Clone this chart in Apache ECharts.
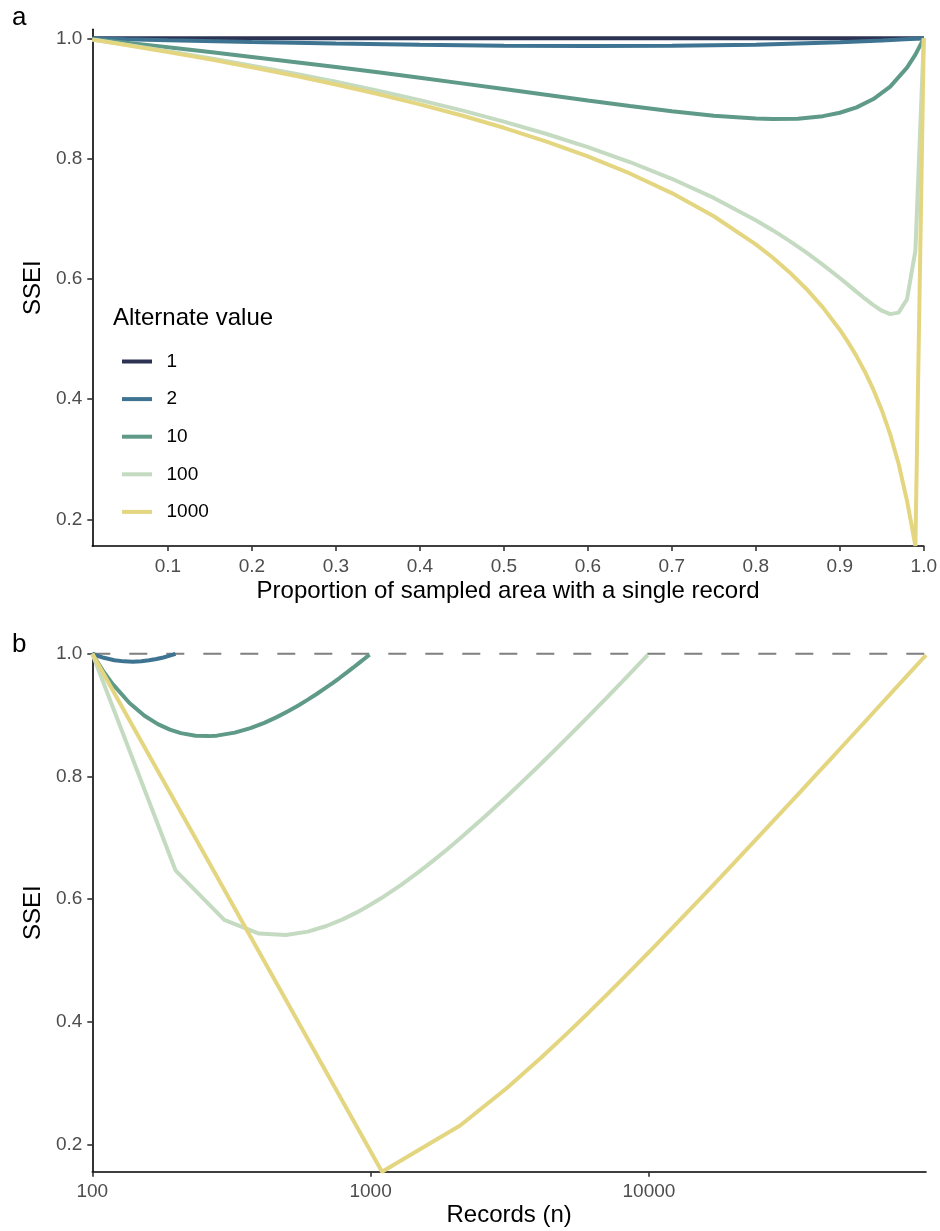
<!DOCTYPE html>
<html><head><meta charset="utf-8">
<script src="https://cdn.jsdelivr.net/npm/echarts@6/dist/echarts.min.js"></script>
<style>html,body{margin:0;padding:0;background:#fff}#c{width:940px;height:1231px}</style>
</head><body><div id="c"></div>
<script>
// ---- data ----
const altValues = ['1', '2', '10', '100', '1000'];
const lineColors = ['#2b3252', '#3e7491', '#5f9a88', '#c4dbc2', '#e4d680'];

// Panel a: proportion of sampled area with a single record vs SSEI
const prop1 = [0.01, 1.0];
const ssei1 = [1.0, 1.0];
const rec1 = [100, 100];

const prop2 = [0.01, 0.05, 0.1, 0.2, 0.3, 0.4, 0.5, 0.6, 0.7, 0.8, 0.9, 0.95, 1.0];
const ssei2 = [0.99967, 0.99836, 0.99678, 0.99385, 0.99127, 0.98917, 0.98770, 0.98706, 0.98750, 0.98942, 0.99333, 0.99626, 1.0];
const rec2 = [199, 195, 190, 180, 170, 160, 150, 140, 130, 120, 110, 105, 100];

const prop10 = [0.01, 0.05, 0.1, 0.15, 0.2, 0.25, 0.3, 0.35, 0.4, 0.45, 0.5, 0.55, 0.6, 0.65, 0.7, 0.75, 0.8, 0.82, 0.85, 0.88, 0.9, 0.92, 0.94, 0.96, 0.98, 0.99, 1.0];
const ssei10 = [0.99854, 0.99262, 0.98502, 0.97718, 0.96910, 0.96078, 0.95221, 0.94339, 0.93434, 0.92507, 0.91564, 0.90610, 0.89660, 0.88734, 0.87870, 0.87133, 0.86644, 0.86564, 0.86638, 0.87057, 0.87622, 0.88521, 0.89895, 0.91971, 0.95120, 0.97284, 1.0];
const rec10 = [991, 955, 910, 865, 820, 775, 730, 685, 640, 595, 550, 505, 460, 415, 370, 325, 280, 262, 235, 208, 190, 172, 154, 136, 118, 109, 100];

const prop100 = [0.01, 0.05, 0.1, 0.15, 0.2, 0.25, 0.3, 0.35, 0.4, 0.45, 0.5, 0.55, 0.6, 0.65, 0.7, 0.75, 0.8, 0.82, 0.84, 0.85, 0.86, 0.88, 0.9, 0.91, 0.92, 0.93, 0.94, 0.95, 0.96, 0.97, 0.98, 0.99, 1.0];
const ssei100 = [0.99794, 0.98950, 0.97847, 0.96686, 0.95458, 0.94158, 0.92774, 0.91298, 0.89714, 0.88007, 0.86154, 0.84132, 0.81904, 0.79426, 0.76637, 0.73452, 0.69750, 0.68088, 0.66305, 0.65364, 0.64388, 0.62328, 0.60128, 0.58986, 0.57832, 0.56691, 0.55613, 0.54692, 0.54129, 0.54373, 0.56597, 0.64691, 1.0];
const rec100 = [9901, 9505, 9010, 8515, 8020, 7525, 7030, 6535, 6040, 5545, 5050, 4555, 4060, 3565, 3070, 2575, 2080, 1882, 1684, 1585, 1486, 1288, 1090, 991, 892, 793, 694, 595, 496, 397, 298, 199, 100];

const prop1000 = [0.01, 0.05, 0.1, 0.15, 0.2, 0.25, 0.3, 0.35, 0.4, 0.45, 0.5, 0.55, 0.6, 0.65, 0.7, 0.75, 0.8, 0.82, 0.84, 0.86, 0.88, 0.9, 0.91, 0.92, 0.93, 0.94, 0.95, 0.96, 0.97, 0.98, 0.99, 1.0];
const ssei1000 = [0.99783, 0.98895, 0.97731, 0.96501, 0.95197, 0.93810, 0.92328, 0.90738, 0.89022, 0.87158, 0.85120, 0.82870, 0.80360, 0.77522, 0.74256, 0.70410, 0.65735, 0.63542, 0.61103, 0.58355, 0.55210, 0.51533, 0.49432, 0.47108, 0.44508, 0.41561, 0.38154, 0.34134, 0.29245, 0.23097, 0.15562, 1.0];
const rec1000 = [99001, 95005, 90010, 85015, 80020, 75025, 70030, 65035, 60040, 55045, 50050, 45055, 40060, 35065, 30070, 25075, 20080, 18082, 16084, 14086, 12088, 10090, 9091, 8092, 7093, 6094, 5095, 4096, 3097, 2098, 1099, 100];

// reference line (panel b)
const refRecords = [100, 99001];
const refSSEI = [1.0, 1.0];

// ticks
const propTicks = [0.1, 0.2, 0.3, 0.4, 0.5, 0.6, 0.7, 0.8, 0.9, 1.0];
const sseiTicks = [0.2, 0.4, 0.6, 0.8, 1.0];
const recTicks = [100, 1000, 10000];

// ---- chart ----
const FONT = "'Liberation Sans', Arial, Helvetica, sans-serif";
const propList = [prop1, prop2, prop10, prop100, prop1000];
const sseiList = [ssei1, ssei2, ssei10, ssei100, ssei1000];
const recList = [rec1, rec2, rec10, rec100, rec1000];

function zip(a, b) { return a.map((v, i) => [v, b[i]]); }

function axisBase(extra) {
  return Object.assign({
    axisLine: { show: true, onZero: false, lineStyle: { color: '#000', width: 1.6 } },
    splitLine: { show: false },
    nameTextStyle: { color: '#000', fontSize: 24, fontFamily: FONT }
  }, extra);
}
function ticks(vals) {
  return { show: true, length: 5, customValues: vals, lineStyle: { color: '#333', width: 1.6 } };
}
function labels(vals, margin, fmt) {
  return { color: '#4d4d4d', fontSize: 19, fontFamily: FONT, margin: margin, customValues: vals, formatter: fmt };
}

const series = [];
altValues.forEach((name, k) => {
  series.push({
    name: name, type: 'line', xAxisIndex: 0, yAxisIndex: 0,
    data: zip(propList[k], sseiList[k]),
    showSymbol: false, symbol: 'none', clip: false,
    color: lineColors[k],
    itemStyle: { color: lineColors[k] },
    lineStyle: { color: lineColors[k], width: 4 },
    z: 3 + k
  });
});
series.push({
  name: 'ref', type: 'line', xAxisIndex: 1, yAxisIndex: 1,
  data: zip(refRecords, refSSEI),
  showSymbol: false, symbol: 'none', clip: false,
  lineStyle: { color: '#7f7f7f', width: 2, type: [18, 19] },
  z: 2
});
altValues.forEach((name, k) => {
  if (k === 0) return;
  series.push({
    name: name, type: 'line', xAxisIndex: 1, yAxisIndex: 1,
    data: zip(recList[k], sseiList[k]),
    showSymbol: false, symbol: 'none', clip: false,
    color: lineColors[k],
    itemStyle: { color: lineColors[k] },
    lineStyle: { color: lineColors[k], width: 4 },
    z: 3 + k
  });
});

const fmt1 = v => v.toFixed(1);
const option = {
  animation: false,
  backgroundColor: '#fff',
  textStyle: { fontFamily: FONT },
  grid: [
    { left: 92.3, top: 29.3, width: 833.7, height: 516.7 },
    { left: 92.3, top: 653.7, width: 833.7, height: 518 }
  ],
  xAxis: [
    axisBase({
      type: 'value', gridIndex: 0, min: 0.01, max: 1.0,
      name: 'Proportion of sampled area with a single record',
      nameLocation: 'middle', nameGap: 33,
      axisTick: ticks(propTicks),
      axisLabel: labels(propTicks, 11, fmt1)
    }),
    axisBase({
      type: 'log', logBase: 10, gridIndex: 1, min: 100, max: 99001,
      name: 'Records (n)', nameLocation: 'middle', nameGap: 32,
      axisTick: ticks(recTicks),
      axisLabel: labels(recTicks, 11, v => String(Math.round(v))),
      minorTick: { show: false }
    })
  ],
  yAxis: [
    axisBase({
      type: 'value', gridIndex: 0, min: 0.1556, max: 1.015,
      name: 'SSEI', nameLocation: 'middle', nameGap: 45, nameRotate: 90,
      axisTick: ticks(sseiTicks),
      axisLabel: labels(sseiTicks, 10, fmt1)
    }),
    axisBase({
      type: 'value', gridIndex: 1, min: 0.1556, max: 1.0,
      name: 'SSEI', nameLocation: 'middle', nameGap: 45, nameRotate: 90,
      axisTick: ticks(sseiTicks),
      axisLabel: labels(sseiTicks, 10, fmt1)
    })
  ],
  legend: {
    data: altValues,
    orient: 'vertical',
    left: 117, top: 346.5,
    icon: 'rect', itemWidth: 30, itemHeight: 4, itemGap: 17.6,
    selectedMode: false,
    formatter: name => '\u2002' + name,
    textStyle: { color: '#000', fontSize: 19, fontFamily: FONT, lineHeight: 20 }
  },
  graphic: [
    { type: 'text', left: 12, top: 5, style: { text: 'a', fontSize: 26, fontFamily: FONT, fill: '#000' } },
    { type: 'text', left: 12, top: 632, style: { text: 'b', fontSize: 26, fontFamily: FONT, fill: '#000' } },
    { type: 'text', left: 113, top: 306, style: { text: 'Alternate value', fontSize: 24, fontFamily: FONT, fill: '#000' } }
  ],
  series: series
};
const chart = echarts.init(document.getElementById('c'));
chart.setOption(option);
</script>
</body></html>
